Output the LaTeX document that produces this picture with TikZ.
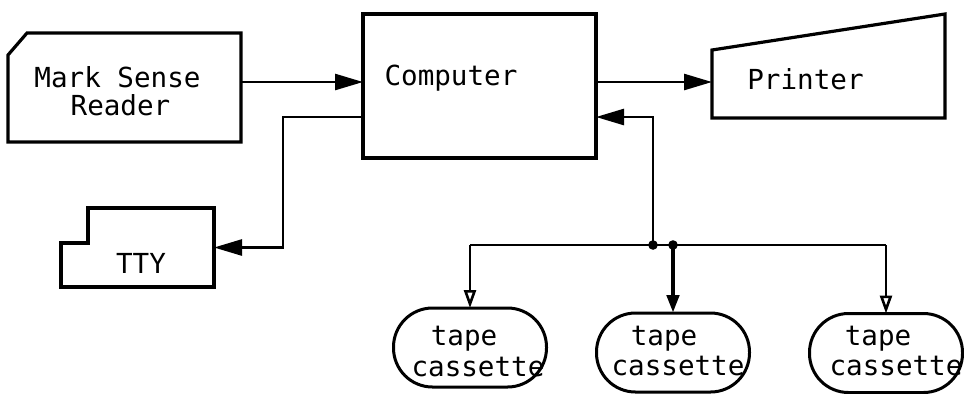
\documentclass[tikz,border=0pt]{standalone}
\usepackage{fontspec}
\setmonofont{DejaVu Sans Mono}
\usetikzlibrary{arrows.meta,calc}
\begin{document}
\begin{tikzpicture}[x=0.5pt,y=-0.5pt,
  shp/.style={draw=none, inner sep=0pt, outer sep=0pt},
  outl/.style={line width=1.6pt, line join=miter},
  lbl/.style={font=\fontsize{13.8}{16}\selectfont\ttfamily, inner sep=0pt, anchor=base},
  cas/.style={draw, line width=1.5pt, rounded corners=19.5pt, minimum width=76.5pt, minimum height=39.5pt, inner sep=0pt, outer sep=0pt},
  conn/.style={line width=1.3pt},
  arr/.style={conn, -{Triangle[length=14pt,width=8pt]}},
  sarr/.style={conn, -{Triangle[open,length=9pt,width=6pt]}},
  dot/.style={fill=black}]
\useasboundingbox (0,0) rectangle (964,393);
\fill[white] (0,0) rectangle (964,393);

% Mark Sense Reader
\node[shp, minimum width=116.5pt, minimum height=54.5pt] (msr) at (124.5,87.5) {};
\draw[outl] ($(msr.north west)+(0,22)$) -- ($(msr.north west)+(19,0)$) -- (msr.north east) -- (msr.south east) -- (msr.south west) -- cycle;
\node[lbl] (msrt1) at (117.5,87) {Mark Sense};
\node[lbl] (msrt2) at (120.5,115) {Reader};

% Computer
\node[shp, draw, line width=1.6pt, minimum width=116.5pt, minimum height=72pt] (comp) at (479.5,86) {};
\node[lbl] (compt) at (451,85) {Computer};

% Printer
\node[shp, minimum width=116.5pt, minimum height=52pt] (prn) at (828.5,66) {};
\draw[outl] ($(prn.north west)+(0,36)$) -- (prn.north east) -- (prn.south east) -- (prn.south west) -- cycle;
\node[lbl] (prnt) at (805.5,89) {Printer};

% TTY
\node[shp, minimum width=76.5pt, minimum height=39.5pt] (tty) at (137.5,247.5) {};
\draw[outl] ($(tty.north west)+(27,0)$) -- (tty.north east) -- (tty.south east) -- (tty.south west) -- ($(tty.north west)+(0,35)$) -- ($(tty.north west)+(27,35)$) -- cycle;
\node[lbl] (ttyt) at (141,273) {TTY};

% Tape cassettes
\node[cas] (c1) at (470,347.5) {};
\node[cas] (c2) at (673,352.5) {};
\node[cas] (c3) at (886,353) {};
\node[lbl] (c1a) at (464,345) {tape};
\node[lbl] (c1b) at (478,376) {cassette};
\node[lbl] (c2a) at (664,345) {tape};
\node[lbl] (c2b) at (678,375) {cassette};
\node[lbl] (c3a) at (878,345) {tape};
\node[lbl] (c3b) at (896,375) {cassette};

% ports
\coordinate (cinL) at ($(comp.west)+(0,-4)$);
\coordinate (coutL) at ($(comp.west)+(0,31)$);
\coordinate (coutR) at ($(comp.east)+(0,-4)$);
\coordinate (cinR) at ($(comp.east)+(0,31)$);
\coordinate (pin) at ($(prn.west)+(0,16)$);
\coordinate (j1) at (653,245);
\coordinate (j2) at (c2.north |- j1);

% connectors
\draw[arr] (msr.east |- cinL) -- (cinL);
\draw[arr] (coutL) -- ++(-80,0) |- (tty.east);
\draw[arr] (coutR) -- (pin);
\draw[arr] (j1) |- (cinR);
\draw[conn] (c1.north |- j1) -- (c3.north |- j1);
\draw[sarr] (c1.north |- j1) -- (c1.north);
\draw[conn, line width=2.2pt, -{Triangle[length=9pt,width=6pt]}] (j2) -- (c2.north);
\draw[sarr] (c3.north |- j1) -- (c3.north);
\fill[dot] (j1) circle (2.4pt);
\fill[dot] (j2) circle (2.4pt);
\end{tikzpicture}
\end{document}
